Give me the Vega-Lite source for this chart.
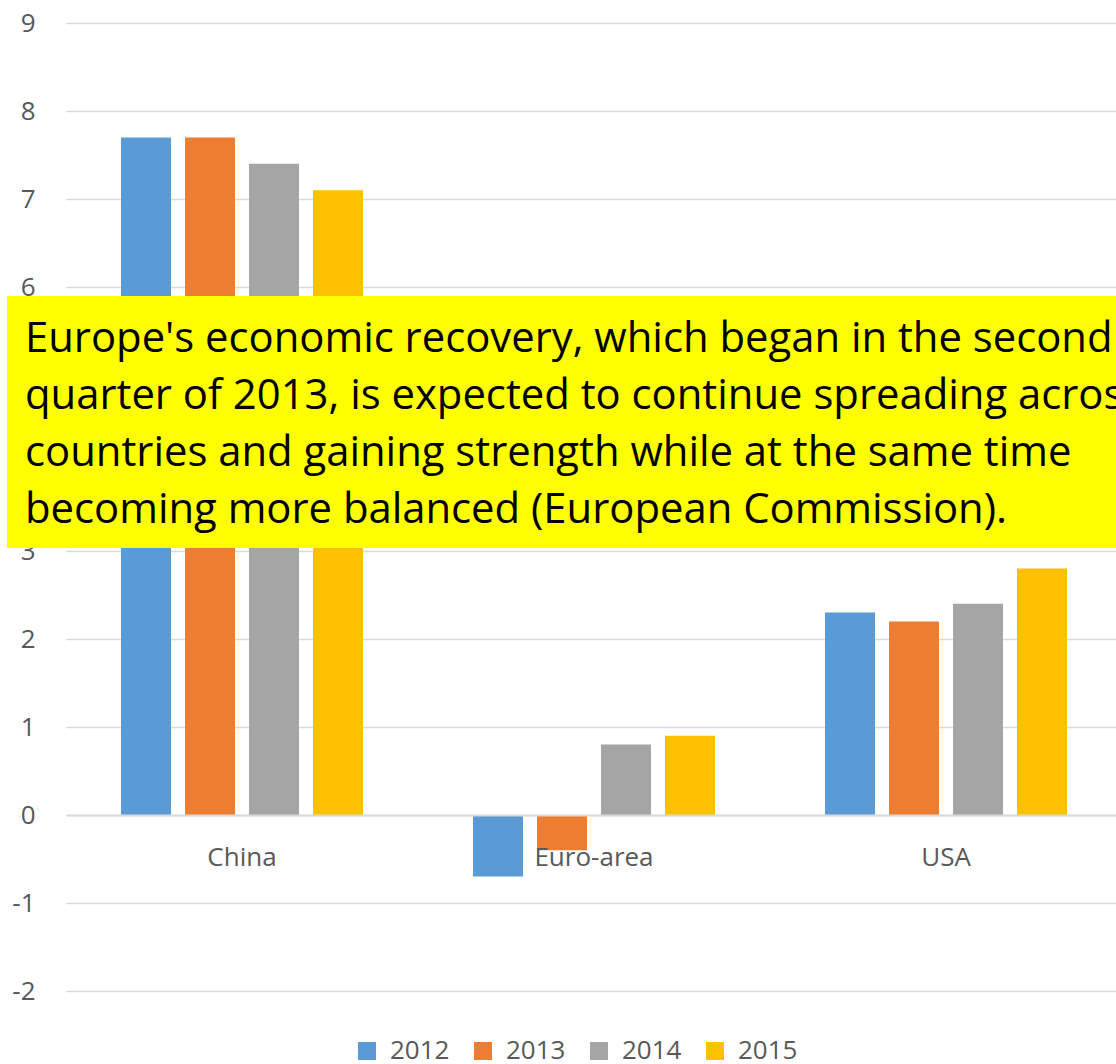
{
  "$schema": "https://vega.github.io/schema/vega-lite/v6.json",
  "autosize": "none",
  "width": 1050,
  "height": 968,
  "padding": {"left": 66, "top": 23, "right": 0, "bottom": 73},
  "background": "white",
  "config": {
    "view": {"stroke": null},
    "font": "Open Sans",
    "axis": {"labelFont": "Open Sans", "labelColor": "#595959", "labelFontSize": 26, "title": null}
  },
  "datasets": {
    "gdp": [
      {"region": "China", "year": "2012", "growth": 7.7},
      {"region": "China", "year": "2013", "growth": 7.7},
      {"region": "China", "year": "2014", "growth": 7.4},
      {"region": "China", "year": "2015", "growth": 7.1},
      {"region": "Euro-area", "year": "2012", "growth": -0.7},
      {"region": "Euro-area", "year": "2013", "growth": -0.4},
      {"region": "Euro-area", "year": "2014", "growth": 0.8},
      {"region": "Euro-area", "year": "2015", "growth": 0.9},
      {"region": "USA", "year": "2012", "growth": 2.3},
      {"region": "USA", "year": "2013", "growth": 2.2},
      {"region": "USA", "year": "2014", "growth": 2.4},
      {"region": "USA", "year": "2015", "growth": 2.8}
    ],
    "note": [
      {"text": "Europe's economic recovery, which began in the second\nquarter of 2013, is expected to continue spreading across\ncountries and gaining strength while at the same time\nbecoming more balanced (European Commission)."}
    ]
  },
  "layer": [
    {
      "data": {"name": "gdp"},
      "mark": {"type": "bar"},
      "encoding": {
        "x": {
          "field": "region", "type": "nominal", "sort": ["China", "Euro-area", "USA"],
          "scale": {"range": [0, 1056], "paddingInner": 0, "paddingOuter": 0},
          "axis": {"orient": "bottom", "offset": -176, "domainColor": "#d9d9d9", "domainWidth": 2, "ticks": false, "tickSize": 0, "labelPadding": 29, "labelAngle": 0, "grid": false, "zindex": 1}
        },
        "xOffset": {
          "field": "year", "type": "nominal",
          "scale": {"paddingInner": 0.21875, "paddingOuter": 0.859375}
        },
        "y": {
          "field": "growth", "type": "quantitative",
          "scale": {"domain": [-2, 9], "nice": false, "zero": false},
          "axis": {"values": [-2, -1, 0, 1, 2, 3, 4, 5, 6, 7, 8, 9], "labelExpr": "'' + datum.value", "domain": false, "ticks": false, "tickSize": 0, "labelPadding": 31, "gridColor": "#d9d9d9", "gridWidth": 1.5, "labelBaseline": "middle"}
        },
        "color": {
          "field": "year", "type": "nominal",
          "scale": {"domain": ["2012", "2013", "2014", "2015"], "range": ["#5B9BD5", "#ED7D31", "#A5A5A5", "#FFC000"]},
          "legend": {
            "title": null, "orient": "none", "legendX": 288, "legendY": 1015, "direction": "horizontal",
            "symbolType": "square", "symbolSize": 324, "symbolStrokeWidth": 0, "symbolOpacity": 1,
            "labelFont": "Open Sans", "labelFontSize": 26, "labelColor": "#595959", "labelOffset": 10,
            "columnPadding": 20, "padding": 0
          }
        }
      }
    },
    {
      "data": {"name": "note"},
      "mark": {"type": "rect", "color": "#FFFF00", "opacity": 1},
      "encoding": {
        "x": {"datum": "China", "bandPosition": -0.1676},
        "x2": {"datum": "USA", "bandPosition": 1},
        "y": {"datum": 5.898},
        "y2": {"datum": 3.034}
      }
    },
    {
      "data": {"name": "note"},
      "mark": {"type": "text", "align": "left", "baseline": "alphabetic", "font": "Open Sans", "fontSize": 41.8, "lineBreak": "\n", "lineHeight": 57, "color": "#000000"},
      "encoding": {
        "x": {"datum": "China", "bandPosition": -0.1165},
        "y": {"datum": 5.261},
        "text": {"field": "text"}
      }
    }
  ]
}
